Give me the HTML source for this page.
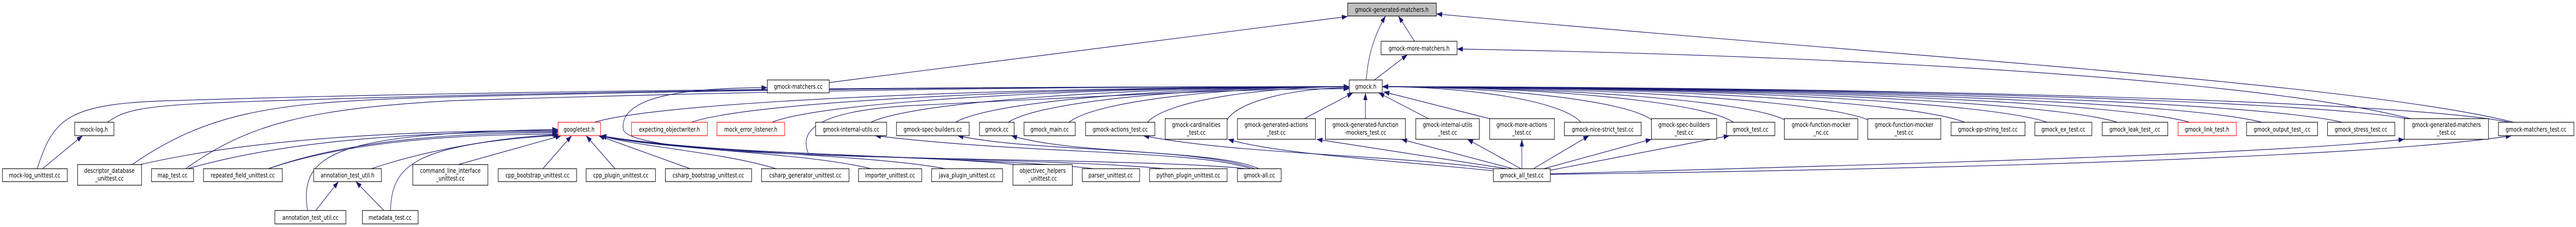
<!DOCTYPE html>
<html><head><meta charset="utf-8"><style>
html,body{margin:0;padding:0;background:#fff;width:100%;height:100%;overflow:hidden;}
svg{display:block;position:fixed;left:0;top:0;width:100vw;height:100vh;}
text{font-family:"DejaVu Sans","Liberation Sans",sans-serif;font-size:12px;fill:#000;text-anchor:middle;}
.n{fill:#fff;stroke:#000;stroke-width:1.2;}
.r{fill:#fff;stroke:#f00;stroke-width:1.2;}
.g{fill:#bfbfbf;stroke:#000;stroke-width:1.2;}
.e path{fill:none;stroke:#191970;stroke-width:1.2;marker-end:url(#a);}
</style></head><body>
<svg viewBox="0 0 6241 440" preserveAspectRatio="none" xmlns="http://www.w3.org/2000/svg">
<defs><marker id="a" markerUnits="userSpaceOnUse" markerWidth="14" markerHeight="10" refX="14" refY="5" orient="auto"><path d="M0,0 L14,5 L0,10 z" fill="#191970"/></marker></defs>
<g class="e">
<path d="M3310,155 C3315,100 3335,60 3357,31"/>
<path d="M3330,155 L3410,106"/>
<path d="M3427,80 L3388,31"/>
<path d="M2009,160 L3265,32"/>
<path d="M6090,237 C5700,160 4600,110 3480,27"/>
<path d="M5840,230 C5500,160 4600,110 3530,95"/>
<path d="M90,327 C130,230 160,200 420,195 C1200,175 2300,168 3269,168"/>
<path d="M260,237 C300,215 330,205 561,198 C1200,180 2065,168 3269,168"/>
<path d="M320,319 C500,220 650,200 1000,190 C1800,172 2500,168 3269,168"/>
<path d="M450,327 C600,240 750,210 1100,195 C1900,175 2500,168 3269,168"/>
<path d="M1440,237 C1623,193 2537,168 3269,168"/>
<path d="M1675,237 C1834,193 2631,168 3269,168"/>
<path d="M1870,237 C2010,193 2709,168 3269,168"/>
<path d="M2110,237 C2226,193 2805,168 3269,168"/>
<path d="M2315,237 C2410,193 2887,168 3269,168"/>
<path d="M2443,237 C2526,193 2939,168 3269,168"/>
<path d="M2590,237 C2658,193 2997,168 3269,168"/>
<path d="M2780,237 C2829,193 3073,168 3269,168"/>
<path d="M2973,232 C3003,193 3151,170 3269,170"/>
<path d="M3160,230 L3278,180"/>
<path d="M3308,230 L3308,180"/>
<path d="M3461,230 L3340,180"/>
<path d="M1960,300 C1930,250 1990,215 2200,205 C2700,185 3000,172 3269,172"/>
<path d="M3609,230 L3352,178"/>
<path d="M3830,237 C3782,193 3541,168 3349,168"/>
<path d="M4001,232 C3936,193 3610,168 3349,168"/>
<path d="M4200,237 C4115,193 3689,168 3349,168"/>
<path d="M4323,232 C4226,193 3739,168 3349,168"/>
<path d="M4525,232 C4407,193 3819,168 3349,168"/>
<path d="M4760,237 C4619,193 3913,168 3349,168"/>
<path d="M4960,237 C4799,193 3993,168 3349,168"/>
<path d="M5130,237 C4952,193 4061,168 3349,168"/>
<path d="M5305,237 C5109,193 4131,168 3349,168"/>
<path d="M5480,237 C5267,193 4201,168 3349,168"/>
<path d="M5675,237 C5442,193 4279,168 3349,168"/>
<path d="M5830,230 C5582,193 4341,168 3349,168"/>
<path d="M6080,237 C5807,193 4441,168 3349,168"/>
<path d="M340,319 C644,263 1048,253 1352,253"/>
<path d="M455,327 C724,265 1083,255 1352,255"/>
<path d="M650,327 C861,267 1141,257 1352,257"/>
<path d="M650,327 C861,270 1141,260 1352,260"/>
<path d="M900,327 C1036,290 1220,265 1355,261"/>
<path d="M745,408 C725,300 800,258 1352,251"/>
<path d="M946,408 C950,320 1000,280 1355,262"/>
<path d="M1110,319 L1360,263"/>
<path d="M1315,327 L1385,263"/>
<path d="M1490,327 L1420,263"/>
<path d="M1672,327 L1450,263"/>
<path d="M1880,327 C1750,295 1550,285 1455,263"/>
<path d="M2110,327 C1950,295 1600,290 1455,263"/>
<path d="M2290,327 C2100,298 1650,295 1455,263"/>
<path d="M2460,319 C2250,300 1700,300 1455,263"/>
<path d="M2650,327 C2400,303 1750,305 1455,263"/>
<path d="M2820,327 C2550,305 1800,310 1455,263"/>
<path d="M3020,327 C2700,300 1520,320 1510,250 C1500,180 1700,170 1859,170"/>
<path d="M3030,327 C2900,290 2500,300 2120,263"/>
<path d="M3040,327 C2900,285 2500,295 2320,263"/>
<path d="M3050,327 C2950,290 2600,300 2450,263"/>
<path d="M3640,330 C3400,300 3000,300 2770,263"/>
<path d="M3640,333 C3400,312 3100,300 2975,270"/>
<path d="M3650,327 L3190,270"/>
<path d="M3665,327 L3395,270"/>
<path d="M3685,327 L3555,270"/>
<path d="M3687,327 L3687,270"/>
<path d="M3715,327 L3850,263"/>
<path d="M3740,327 L4001,270"/>
<path d="M3756,330 L4190,263"/>
<path d="M3756,337 C4500,320 5500,300 5825,270"/>
<path d="M3756,338 C4500,330 5700,310 6085,263"/>
<path d="M103,327 L200,263"/>
<path d="M765,408 L820,352"/>
<path d="M930,408 L862,352"/>
</g>
<g>
<rect class="g" x="3265" y="6" width="215" height="25"/><text x="3372" y="23">gmock-generated-matchers.h</text>
<rect class="n" x="3346" y="80" width="184" height="26"/><text x="3438" y="98">gmock-more-matchers.h</text>
<rect class="n" x="1859" y="155" width="150" height="25"/><text x="1934" y="172">gmock-matchers.cc</text>
<rect class="n" x="3269" y="155" width="80" height="25"/><text x="3309" y="172">gmock.h</text>

<rect class="n" x="181" y="237" width="95" height="26"/><text x="228" y="255">mock-log.h</text>
<rect class="r" x="1352" y="237" width="103" height="26"/><text x="1403" y="255">googletest.h</text>
<rect class="r" x="1530" y="237" width="184" height="26"/><text x="1622" y="255">expecting_objectwriter.h</text>
<rect class="r" x="1737" y="237" width="164" height="26"/><text x="1819" y="255">mock_error_listener.h</text>
<rect class="n" x="1976" y="237" width="172" height="26"/><text x="2062" y="255">gmock-internal-utils.cc</text>
<rect class="n" x="2172" y="237" width="176" height="26"/><text x="2260" y="255">gmock-spec-builders.cc</text>
<rect class="n" x="2373" y="237" width="84" height="26"/><text x="2415" y="255">gmock.cc</text>
<rect class="n" x="2481" y="237" width="124" height="26"/><text x="2543" y="255">gmock_main.cc</text>
<rect class="n" x="2630" y="237" width="168" height="26"/><text x="2714" y="255">gmock-actions_test.cc</text>
<rect class="n" x="2823" y="230" width="150" height="40"/><text x="2898" y="246">gmock-cardinalities</text><text x="2898" y="261">_test.cc</text>
<rect class="n" x="2998" y="230" width="189" height="40"/><text x="3092" y="246">gmock-generated-actions</text><text x="3092" y="261">_test.cc</text>
<rect class="n" x="3211" y="230" width="194" height="40"/><text x="3308" y="246">gmock-generated-function</text><text x="3308" y="261">-mockers_test.cc</text>
<rect class="n" x="3430" y="230" width="154" height="40"/><text x="3507" y="246">gmock-internal-utils</text><text x="3507" y="261">_test.cc</text>
<rect class="n" x="3609" y="230" width="157" height="40"/><text x="3687" y="246">gmock-more-actions</text><text x="3687" y="261">_test.cc</text>
<rect class="n" x="3790" y="237" width="186" height="26"/><text x="3883" y="255">gmock-nice-strict_test.cc</text>
<rect class="n" x="4001" y="230" width="158" height="40"/><text x="4080" y="246">gmock-spec-builders</text><text x="4080" y="261">_test.cc</text>
<rect class="n" x="4183" y="237" width="117" height="26"/><text x="4241" y="255">gmock_test.cc</text>
<rect class="n" x="4323" y="230" width="178" height="40"/><text x="4412" y="246">gmock-function-mocker</text><text x="4412" y="261">_nc.cc</text>
<rect class="n" x="4525" y="230" width="177" height="40"/><text x="4613" y="246">gmock-function-mocker</text><text x="4613" y="261">_test.cc</text>
<rect class="n" x="4727" y="237" width="179" height="26"/><text x="4816" y="255">gmock-pp-string_test.cc</text>
<rect class="n" x="4930" y="237" width="138" height="26"/><text x="4999" y="255">gmock_ex_test.cc</text>
<rect class="n" x="5093" y="237" width="159" height="26"/><text x="5172" y="255">gmock_leak_test_.cc</text>
<rect class="r" x="5277" y="237" width="141" height="26"/><text x="5347" y="255">gmock_link_test.h</text>
<rect class="n" x="5443" y="237" width="172" height="26"/><text x="5529" y="255">gmock_output_test_.cc</text>
<rect class="n" x="5639" y="237" width="163" height="26"/><text x="5720" y="255">gmock_stress_test.cc</text>
<rect class="n" x="5825" y="230" width="204" height="40"/><text x="5927" y="246">gmock-generated-matchers</text><text x="5927" y="261">_test.cc</text>
<rect class="n" x="6053" y="237" width="183" height="26"/><text x="6144" y="255">gmock-matchers_test.cc</text>

<rect class="n" x="6" y="327" width="157" height="25"/><text x="84" y="344">mock-log_unittest.cc</text>
<rect class="n" x="188" y="319" width="155" height="40"/><text x="265" y="335">descriptor_database</text><text x="265" y="350">_unittest.cc</text>
<rect class="n" x="367" y="327" width="102" height="25"/><text x="418" y="344">map_test.cc</text>
<rect class="n" x="493" y="327" width="191" height="25"/><text x="588" y="344">repeated_field_unittest.cc</text>
<rect class="n" x="760" y="327" width="164" height="25"/><text x="842" y="344">annotation_test_util.h</text>
<rect class="n" x="1000" y="319" width="182" height="40"/><text x="1091" y="335">command_line_interface</text><text x="1091" y="350">_unittest.cc</text>
<rect class="n" x="1207" y="327" width="190" height="25"/><text x="1302" y="344">cpp_bootstrap_unittest.cc</text>
<rect class="n" x="1420" y="327" width="168" height="25"/><text x="1504" y="344">cpp_plugin_unittest.cc</text>
<rect class="n" x="1612" y="327" width="209" height="25"/><text x="1716" y="344">csharp_bootstrap_unittest.cc</text>
<rect class="n" x="1845" y="327" width="212" height="25"/><text x="1951" y="344">csharp_generator_unittest.cc</text>
<rect class="n" x="2080" y="327" width="153" height="25"/><text x="2156" y="344">importer_unittest.cc</text>
<rect class="n" x="2257" y="327" width="172" height="25"/><text x="2343" y="344">java_plugin_unittest.cc</text>
<rect class="n" x="2454" y="319" width="144" height="40"/><text x="2526" y="335">objectivec_helpers</text><text x="2526" y="350">_unittest.cc</text>
<rect class="n" x="2622" y="327" width="139" height="25"/><text x="2691" y="344">parser_unittest.cc</text>
<rect class="n" x="2785" y="327" width="188" height="25"/><text x="2879" y="344">python_plugin_unittest.cc</text>
<rect class="n" x="2998" y="327" width="106" height="25"/><text x="3051" y="344">gmock-all.cc</text>
<rect class="n" x="3618" y="327" width="138" height="25"/><text x="3687" y="344">gmock_all_test.cc</text>

<rect class="n" x="666" y="408" width="172" height="26"/><text x="752" y="426">annotation_test_util.cc</text>
<rect class="n" x="878" y="408" width="135" height="26"/><text x="945" y="426">metadata_test.cc</text>
</g>
</svg>
</body></html>
